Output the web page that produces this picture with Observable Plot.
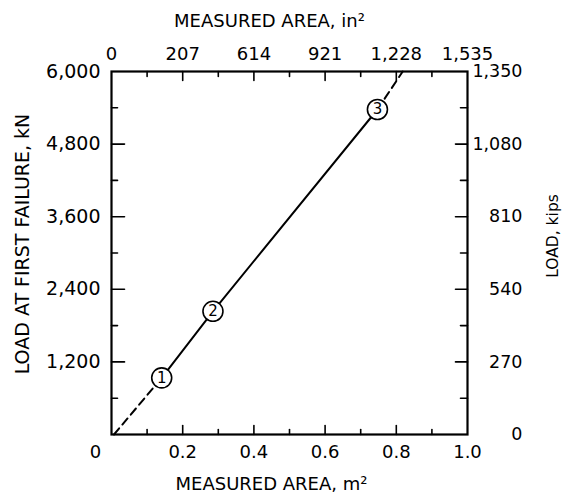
<!DOCTYPE html>
<html><head><meta charset="utf-8">
<script src="https://cdn.jsdelivr.net/npm/d3@7"></script>
<script src="https://cdn.jsdelivr.net/npm/@observablehq/plot@0.6"></script>
<style>body{margin:0;background:#fff}</style>
</head><body><div id="chart"></div>
<script>
// Measured points
const areaM2 = [0.141, 0.285, 0.747];
const loadKN = [936, 2036, 5372];
const pointLabels = ["1", "2", "3"];
// Extension of the fitted line (dashed) to the axes
const fitArea = [0.007, 0.818];
const fitLoad = [0, 6000];

// Axis ticks
const areaTicksM2 = [0, 0.2, 0.4, 0.6, 0.8, 1.0];
const areaMinorM2 = [0.1, 0.3, 0.5, 0.7, 0.9];
const areaLabelsM2 = ["0", "0.2", "0.4", "0.6", "0.8", "1.0"];
const areaLabelsIn2 = ["0", "207", "614", "921", "1,228", "1,535"];
const loadTicksKN = [0, 1200, 2400, 3600, 4800, 6000];
const loadMinorKN = [600, 1800, 3000, 4200, 5400];
const loadLabelsKN = ["", "1,200", "2,400", "3,600", "4,800", "6,000"];
const loadLabelsKips = ["0", "270", "540", "810", "1,080", "1,350"];

const titleTop = "MEASURED AREA, in²";
const titleBottom = "MEASURED AREA, m²";
const titleLeft = "LOAD AT FIRST FAILURE, kN";
const titleRight = "LOAD, kips";

const pts = areaM2.map((x, i) => ({x, y: loadKN[i], label: pointLabels[i]}));
const dashLow = [{x: fitArea[0], y: fitLoad[0]}, pts[0]];
const dashHigh = [pts[pts.length - 1], {x: fitArea[1], y: fitLoad[1]}];

const tickShape = {draw(context, l) { context.moveTo(0, 0); context.lineTo(0, -l); }};
const tick = (data, ch, anchor, rot, len) => Plot.vector(data, {
  [ch]: d => d, frameAnchor: anchor, rotate: rot, length: len, anchor: "start",
  shape: tickShape, stroke: "black", strokeWidth: 1.6
});
const T = {lineAnchor: "middle", fill: "black"};

const chart = Plot.plot({
  width: 564, height: 496,
  marginLeft: 111, marginRight: 97, marginTop: 71, marginBottom: 62,
  x: {domain: [0, 1], axis: null},
  y: {domain: [0, 6000], axis: null},
  style: {fontFamily: "DejaVu Sans", fontSize: "18px", background: "white", color: "black"},
  marks: [
    // inward ticks
    tick(areaTicksM2.slice(1, -1), "x", "bottom", 0, 9),
    tick(areaMinorM2, "x", "bottom", 0, 5),
    tick(areaTicksM2.slice(1, -1), "x", "top", 180, 9),
    tick(areaMinorM2, "x", "top", 180, 5),
    tick(loadTicksKN.slice(1, -1), "y", "left", 90, 13),
    tick(loadMinorKN, "y", "left", 90, 6),
    tick(loadTicksKN.slice(1, -1), "y", "right", -90, 12),
    tick(loadMinorKN, "y", "right", -90, 7),
    Plot.frame({stroke: "black", strokeWidth: 2.2}),
    // fitted line
    Plot.line(dashLow, {x: "x", y: "y", stroke: "black", strokeWidth: 2, strokeDasharray: "8,5"}),
    Plot.line(pts, {x: "x", y: "y", stroke: "black", strokeWidth: 2}),
    Plot.line(dashHigh, {x: "x", y: "y", stroke: "black", strokeWidth: 2, strokeDasharray: "8,5"}),
    Plot.dot(pts, {x: "x", y: "y", r: 10, fill: "white", stroke: "black", strokeWidth: 1.6}),
    Plot.text(pts, {...T, x: "x", y: "y", text: "label", fontSize: 15}),
    // tick labels
    Plot.text(areaTicksM2.slice(1), {...T, x: d => d, frameAnchor: "bottom", dy: 18, text: (d, i) => areaLabelsM2[i + 1]}),
    Plot.text(areaTicksM2.slice(0, 1), {...T, x: d => d, frameAnchor: "bottom", dx: -16, dy: 18, text: (d, i) => areaLabelsM2[i]}),
    Plot.text(areaTicksM2, {...T, x: d => d, frameAnchor: "top", dy: -17, text: (d, i) => areaLabelsIn2[i]}),
    Plot.text(loadTicksKN, {...T, y: d => d, frameAnchor: "left", textAnchor: "end", dx: -11, fontSize: 19, text: (d, i) => loadLabelsKN[i]}),
    Plot.text(loadTicksKN, {...T, y: d => d, frameAnchor: "right", textAnchor: "end", dx: 55, fontSize: 17.5, text: (d, i) => loadLabelsKips[i]}),
    // titles
    Plot.text([titleTop], {...T, frameAnchor: "top", textAnchor: "middle", dy: -50, dx: -20, text: d => d}),
    Plot.text([titleBottom], {...T, frameAnchor: "bottom", textAnchor: "middle", dy: 50, dx: -18, text: d => d}),
    Plot.text([titleLeft], {...T, frameAnchor: "left", textAnchor: "middle", dx: -89, dy: -9, rotate: -90, fontSize: 19, text: d => d}),
    Plot.text([titleRight], {...T, frameAnchor: "right", textAnchor: "middle", dx: 86, dy: -17, rotate: -90, fontSize: 15.5, text: d => d})
  ]
});
document.getElementById("chart").append(chart);
</script>
</body></html>
